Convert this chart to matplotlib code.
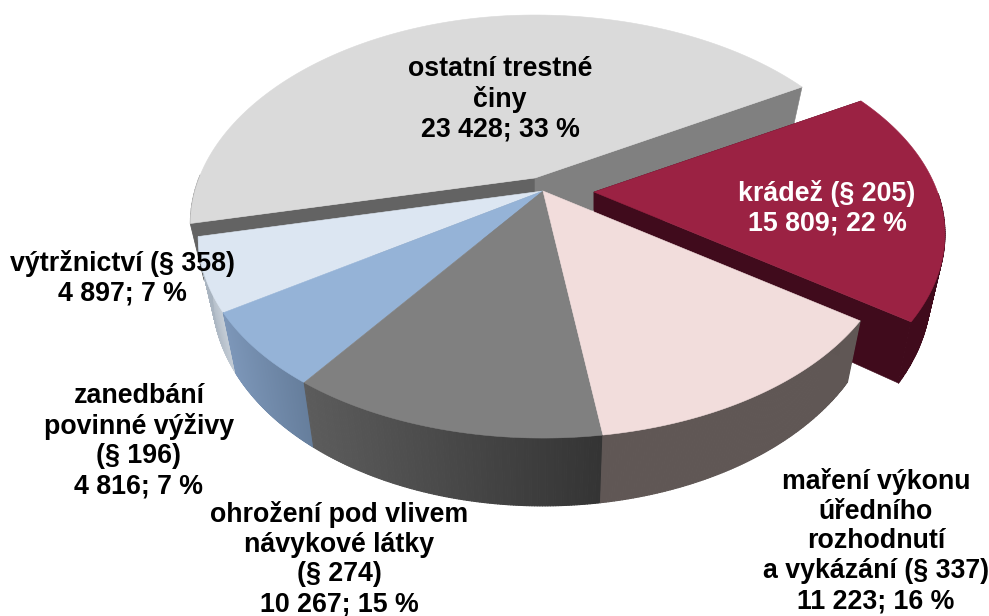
import numpy as np
import matplotlib
matplotlib.use('Agg')
import matplotlib.pyplot as plt
from matplotlib.collections import PolyCollection
from matplotlib.colors import to_rgb

# data, clockwise from the right edge of "ostatni"
categories = ['krádež (§ 205)', 'maření výkonu\núředního\nrozhodnutí\na vykázání (§ 337)',
              'ohrožení pod vlivem\nnávykové látky\n(§ 274)', 'zanedbání\npovinné výživy\n(§ 196)',
              'výtržnictví (§ 358)', 'ostatní trestné\nčiny']
values = [15809, 11223, 10267, 4816, 4897, 23428]
value_labels = ['15 809; 22 %', '11 223; 16 %', '10 267; 15 %', '4 816; 7 %', '4 897; 7 %', '23 428; 33 %']

top_colors = ['#9B2243', '#F2DDDC', '#808080', '#95B3D7', '#DCE6F2', '#DADADA']
wall_left = ['#400B1C', '#605755', '#5C5C5C', '#7C96B8', '#A9B4C0', '#808080']
wall_right = ['#400B1C', '#605755', '#343434', '#667E9C', '#C8D0D9', '#808080']
# only the exploded slices show their cut faces: (start, end)
cut_faces = {0: ('#400B1C', '#400B1C'), 5: ('#636363', '#808080')}

# 3d view of the pie
apexes = [(594, 192), (543, 191), (543, 191), (543, 191), (543, 191), (535, 178)]
view_stretch = [0.822, 0.809, 0.831, 0.854, 0.823, 1.353]
START_ANGLE = 59.2
A, B, K = 343.5, 196.4, 0.205
LEFT_SQUEEZE = 0.022
SCALE_X, SCALE_Y, DEPTH = 0.96, 1.056, 54.0

label_pos = [(827, 208), (876, 541), (339, 559), (139, 441), (122, 278), (500, 99)]
label_colors = ['white', 'black', 'black', 'black', 'black', 'black']


def project(theta):
    # angle in degrees, 0 = back of the pie, clockwise
    t = np.radians(theta)
    u, v = np.sin(t), -np.cos(t)
    d = 1 - K * v
    x, y = A * u / d, B * v / d
    # left side of the reference pie is a bit narrower
    x = np.where(x < 0, x * (1 - LEFT_SQUEEZE * (1 - y / 247)), x)
    return x, y


def to_bottom(dx, dy):
    return dx * SCALE_X, dy * SCALE_Y + DEPTH


fig = plt.figure(figsize=(9.89, 6.16), dpi=100)
ax = fig.add_axes([0, 0, 1, 1])
ax.set_xlim(0, 989)
ax.set_ylim(616, 0)
ax.axis('off')

shares = np.array(values, dtype=float) * np.array(view_stretch)
spans = shares / shares.sum() * 360
edges = START_ANGLE + np.concatenate([[0], np.cumsum(spans)])


def draw_slice(i):
    cx, cy = apexes[i]
    th = np.linspace(edges[i], edges[i + 1], 120)
    dx, dy = project(th)
    bx, by = to_bottom(dx, dy)
    zx, zy = to_bottom(0, 0)

    # outer wall, split in thin strips for the gradient (screen left to right)
    c0, c1 = np.array(to_rgb(wall_left[i])), np.array(to_rgb(wall_right[i]))
    span = max(dx.max() - dx.min(), 1)
    quads, cols = [], []
    for j in range(len(th) - 1):
        if np.cos(np.radians(th[j])) > 0:  # back of the pie, not visible
            continue
        quads.append([(cx + dx[j], cy + dy[j]), (cx + dx[j + 1], cy + dy[j + 1]),
                      (cx + bx[j + 1], cy + by[j + 1]), (cx + bx[j], cy + by[j])])
        f = (dx[j] - dx.min()) / span
        cols.append(c0 + (c1 - c0) * f)
    if quads:
        ax.add_collection(PolyCollection(quads, facecolors=cols, edgecolors=cols, linewidths=0.8))

    # cut faces
    if i in cut_faces:
        for k, col in zip((0, -1), cut_faces[i]):
            ax.fill([cx, cx + dx[k], cx + bx[k], cx + zx], [cy, cy + dy[k], cy + by[k], cy + zy],
                    color=col, lw=0.4)

    # top surface
    ax.fill(np.r_[cx, cx + dx], np.r_[cy, cy + dy], color=top_colors[i], lw=0.4)


# painter's order, back to front
for i in [5, 0, 4, 3, 2, 1]:
    draw_slice(i)

for name, val, pos, col in zip(categories, value_labels, label_pos, label_colors):
    ax.text(pos[0], pos[1], name + '\n' + val, ha='center', va='center', color=col,
            fontsize=19.3, fontweight='bold', family='Liberation Sans', linespacing=1.19)

fig.savefig('out.png', dpi=100)
